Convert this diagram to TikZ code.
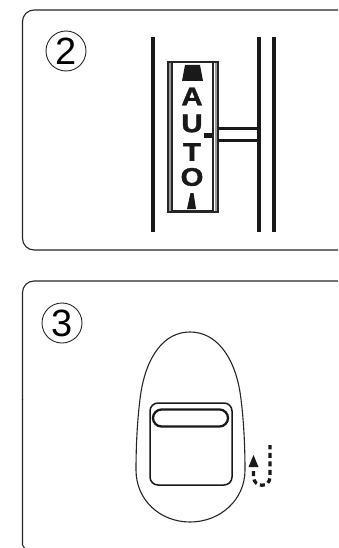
\documentclass[tikz,border=0pt]{standalone}
\usepackage{fontspec}
\setmainfont{Liberation Sans}
\newfontfamily\heavyface[FakeBold=1.5]{Liberation Sans Bold}
\tikzset{
  panel/.style={draw=black!85,line width=1.1pt},
  rail/.style={draw=black!90,line width=4pt},
  thin box/.style={draw=black!85,line width=1.5pt},
  numring/.style={circle,draw=black!85,line width=0.9pt,minimum size=40pt,inner sep=0pt,font=\fontsize{38}{38}\selectfont},
  letter/.style={font=\heavyface\fontsize{25.5}{25.5}\selectfont,inner sep=0pt,text=black!90},
  solidfill/.style={fill=black!90,draw=none}
}
\newcommand{\widelet}[1]{\scalebox{1.15}[1]{#1}}
\begin{document}
\begin{tikzpicture}[x=1pt,y=-1pt]
\useasboundingbox (0,0) rectangle (338,548);
\fill[white] (0,0) rectangle (338,548);
% panels
\draw[panel,rounded corners=11.5pt] (338,10) -- (22.5,10) -- (22.5,250) -- (338,250);
\draw[panel,rounded corners=11.5pt] (338,281) -- (22.5,281) -- (22.5,400);
\draw[panel] (22.5,399) -- (22.5,545) -- (24.5,548);
\node[numring] (n2) at (66,51) {2};
\node[numring] (n3) at (62,323) {3};
% rails
\draw[rail] (153,37) -- (153,232);
\draw[rail,line width=3.6pt] (259,37) -- (259,232);
\draw[rail] (274,37) -- (274,232);
% window
\draw[thin box,fill=white] (168,62) rectangle (218,212);
\draw[draw=black!85,line width=1.3pt] (172,62) -- (172,212);
\draw[draw=black!85,line width=1.3pt] (213,62) -- (213,212);
\draw[draw=black!85,line width=1.5pt] (172,210.5) -- (213,210.5);
\draw[draw=black!40,line width=2pt] (215.5,63) -- (215.5,211);
\draw[draw=black!40,line width=1.5pt] (170,63) -- (170,211);
% links
\draw[draw=black!90,line width=3pt] (218,129) -- (259,129);
\draw[draw=black!90,line width=3pt] (218,141) -- (259,141);
\fill[solidfill] (204,133) rectangle (212,138);
% markers
\fill[solidfill] (185,65) -- (200,65) -- (203,81) -- (182,81) -- cycle;
\fill[solidfill] (190.5,193) -- (193.5,193) -- (196,209) -- (187,209) -- cycle;
% letters
\node[letter] (la) at (192,96.5) {\widelet{A}};
\node[letter] (lu) at (192,123.5) {\widelet{U}};
\node[letter] (lt) at (192,152) {\widelet{T}};
\node[letter] (lo) at (192,177) {\widelet{O}};
% egg
\draw[draw=black!85,line width=1.1pt] (190,332)
  .. controls (164,332) and (147,356) .. (141,392)
  .. controls (138,412) and (136,440) .. (136,470)
  .. controls (136,500) and (160,522) .. (190,522)
  .. controls (220,522) and (245,500) .. (245,470)
  .. controls (245,440) and (243,412) .. (240,392)
  .. controls (234,356) and (216,332) .. (190,332) -- cycle;
\draw[draw=black!90,line width=1.5pt,rounded corners=8pt] (150,403) rectangle (232,485);
\draw[draw=black!90,line width=2.3pt,rounded corners=8.5pt] (153,409.5) rectangle (228,426.5);
% arrow
\fill[solidfill] (253.5,455) -- (258.5,467) -- (248.5,467) -- cycle;
\draw[draw=black!90,line width=3.2pt,dash pattern=on 5pt off 3.5pt] (253.5,471) -- (253.5,477) .. controls (254,488) and (270,488) .. (270,477) -- (270,445);
\end{tikzpicture}
\end{document}
